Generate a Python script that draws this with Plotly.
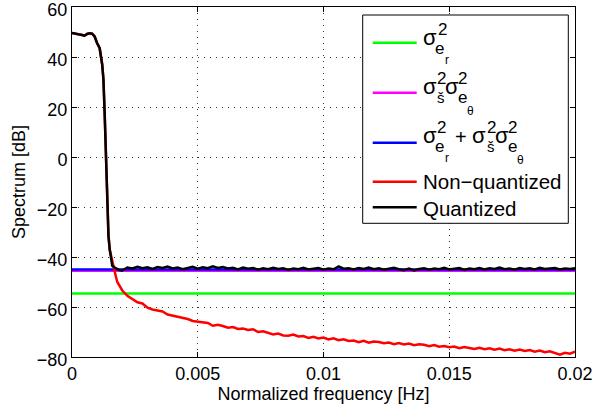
import plotly.graph_objects as go

# ---------------- data ----------------
freq_head = [0.0000, 0.0001, 0.0002, 0.0003, 0.0004, 0.0005, 0.0006, 0.0007, 0.0008, 0.0009,
             0.0010, 0.0011, 0.0012, 0.00125, 0.0013, 0.00135, 0.0014, 0.00145, 0.0015,
             0.0016, 0.0017, 0.0018, 0.0019, 0.0020]
freq_tail = [0.0022, 0.0024, 0.0026, 0.0028, 0.0030, 0.0032, 0.0034, 0.0036, 0.0038, 0.0040,
             0.0042, 0.0044, 0.0046, 0.0048, 0.0050, 0.0052, 0.0054, 0.0056, 0.0058, 0.0060,
             0.0062, 0.0064, 0.0066, 0.0068, 0.0070, 0.0072, 0.0074, 0.0076, 0.0078, 0.0080,
             0.0082, 0.0084, 0.0086, 0.0088, 0.0090, 0.0092, 0.0094, 0.0096, 0.0098, 0.0100,
             0.0102, 0.0104, 0.0106, 0.0108, 0.0110, 0.0112, 0.0114, 0.0116, 0.0118, 0.0120,
             0.0122, 0.0124, 0.0126, 0.0128, 0.0130, 0.0132, 0.0134, 0.0136, 0.0138, 0.0140,
             0.0142, 0.0144, 0.0146, 0.0148, 0.0150, 0.0152, 0.0154, 0.0156, 0.0158, 0.0160,
             0.0162, 0.0164, 0.0166, 0.0168, 0.0170, 0.0172, 0.0174, 0.0176, 0.0178, 0.0180,
             0.0182, 0.0184, 0.0186, 0.0188, 0.0190, 0.0192, 0.0194, 0.0196, 0.0198, 0.0200]
freq = freq_head + freq_tail

nonquant_db = [49.6, 49.5, 49.2, 49.0, 48.8, 48.5, 49.2, 49.5, 49.3, 48.2,
               45.5, 43.5, 37.0, 31.0, 17.0, 2.0, -22.0, -31.5, -37.0,
               -42.0, -46.0, -50.0, -51.5, -53.4,
               -55.5, -56.8, -58.1, -58.6, -60.3, -61.0, -61.3, -61.8, -63.0, -63.4,
               -63.8, -64.5, -64.8, -65.6, -65.9, -66.0, -66.4, -67.5, -67.1, -67.6,
               -68.3, -68.0, -68.8, -68.6, -69.2, -68.9, -70.0, -69.7, -70.3, -71.0,
               -70.6, -71.4, -71.5, -71.0, -71.8, -71.6, -72.4, -71.9, -72.6, -72.2,
               -73.0, -72.5, -73.3, -72.9, -73.6, -73.4, -74.1, -73.5, -74.3, -73.8,
               -74.0, -74.5, -74.2, -74.9, -74.4, -75.0, -74.6, -75.3, -74.9, -75.1,
               -75.7, -75.2, -75.9, -75.6, -76.1, -75.8, -76.5, -76.0, -76.4, -76.8,
               -76.3, -76.9, -76.5, -77.1, -76.6, -77.3, -76.9, -77.5, -77.0, -77.6,
               -77.2, -77.9, -77.4, -78.1, -77.7, -78.4, -79.1, -78.3, -78.7, -77.9]

quant_db = [49.6, 49.5, 49.2, 49.0, 48.8, 48.5, 49.2, 49.5, 49.3, 48.2,
            45.5, 43.5, 37.0, 31.0, 17.0, 2.0, -22.0, -31.5, -37.0,
            -43.5, -44.2, -44.9, -45.3, -45.4,
            -44.2, -44.6, -43.9, -44.5, -44.1, -44.8, -44.0, -44.4, -43.8, -44.6,
            -44.2, -44.9, -44.3, -43.9, -44.7, -44.1, -44.5, -43.7, -44.4, -44.0,
            -44.6, -44.3, -45.0, -44.2, -44.7, -44.4, -45.1, -44.5, -44.9, -44.3,
            -44.8, -44.5, -45.2, -44.6, -44.9, -44.3, -45.0, -44.7, -44.4, -45.1,
            -44.6, -44.9, -43.8, -44.7, -44.5, -45.0, -44.4, -44.8, -44.2, -44.9,
            -44.5, -45.1, -44.7, -44.3, -44.9, -45.3, -44.6, -45.4, -44.8, -44.5,
            -45.1, -44.6, -44.9, -44.3, -45.0, -44.7, -44.4, -45.2, -44.6, -44.9,
            -44.4, -45.0, -44.5, -44.8, -44.2, -44.9, -44.6, -45.1, -44.4, -44.8,
            -44.5, -45.0, -44.3, -44.8, -44.6, -44.4, -45.0, -44.6, -44.8, -44.5]

sigma_er_db = -54.6
sigma_x_etheta_db = -45.5
sigma_total_db = -45.0

x_range = [0, 0.02]
y_range = [-80, 60]
x_ticks = [0, 0.005, 0.01, 0.015, 0.02]
x_ticklabels = ["0", "0.005", "0.01", "0.015", "0.02"]
y_ticks = [60, 40, 20, 0, -20, -40, -60, -80]

series_names = ["σ²_e_r", "σ²_š σ²_e_θ", "σ²_e_r + σ²_š σ²_e_θ", "Non−quantized", "Quantized"]
colors = ["#00ff00", "#ff00ff", "#0000ff", "#ff0000", "#000000"]

# ---------------- layout geometry (pixels) ----------------
W, H = 596, 414
ML, MR, MT, MB = 72, 21, 7, 57
PW, PH = W - ML - MR, H - MT - MB


def px2x(px):
    return (px - ML) / PW


def px2y(py):
    return (MT + PH - py) / PH


FONT = "Liberation Sans, Arial, Helvetica, sans-serif"

# ---------------- figure ----------------
fig = go.Figure()
fig.add_trace(go.Scatter(x=x_range, y=[sigma_er_db, sigma_er_db], mode="lines",
                         line=dict(color=colors[0], width=2.5), name=series_names[0]))
fig.add_trace(go.Scatter(x=x_range, y=[sigma_x_etheta_db, sigma_x_etheta_db], mode="lines",
                         line=dict(color=colors[1], width=2.5), name=series_names[1]))
fig.add_trace(go.Scatter(x=x_range, y=[sigma_total_db, sigma_total_db], mode="lines",
                         line=dict(color=colors[2], width=2.5), name=series_names[2]))
fig.add_trace(go.Scatter(x=freq, y=nonquant_db, mode="lines",
                         line=dict(color=colors[3], width=2.5), name=series_names[3]))
fig.add_trace(go.Scatter(x=freq, y=quant_db, mode="lines",
                         line=dict(color=colors[4], width=2.5), name=series_names[4]))

# ---------------- MATLAB-style legend (drawn by hand for stacked sub/superscripts) -------
shapes = []
annotations = []

# legend box
shapes.append(dict(type="rect", xref="paper", yref="paper",
                   x0=px2x(362.7), x1=px2x(568.3), y0=px2y(223.3), y1=px2y(15),
                   line=dict(color="black", width=1), fillcolor="white", layer="above"))

row_y = [42.7, 92.7, 142.7, 181.7, 207.3]
for c, yy in zip(colors, row_y):
    shapes.append(dict(type="line", xref="paper", yref="paper",
                       x0=px2x(372.7), x1=px2x(416.7), y0=px2y(yy), y1=px2y(yy),
                       line=dict(color=c, width=2.5), layer="above"))


def piece(text, left, baseline, size):
    center = baseline - 0.35 * size
    annotations.append(dict(text=text, xref="paper", yref="paper",
                            x=px2x(left), y=px2y(center), xanchor="left", yanchor="middle",
                            showarrow=False, borderpad=0,
                            font=dict(family=FONT, size=size, color="black")))


S_MAIN, S_SUP, S_SUB2 = 22, 17, 12

# row 1: sigma^2_{e_r}
b = 45
piece("σ", 421.5, b, S_MAIN)
piece("2", 436.5, b - 10, S_SUP)
piece("e", 433.5, b + 9, S_SUP)
piece("r", 443.5, b + 19, S_SUB2)

# row 2: sigma^2_{š} sigma^2_{e_theta}
b = 94
piece("σ", 421.5, b, S_MAIN)
piece("2", 435.5, b - 10, S_SUP)
piece("š", 435.5, b + 9, 15)
piece("σ", 443.5, b, S_MAIN)
piece("2", 457.0, b - 10, S_SUP)
piece("e", 457.0, b + 9, S_SUP)
piece("θ", 465.5, b + 21, S_SUB2)

# row 3: sigma^2_{e_r} + sigma^2_{š} sigma^2_{e_theta}
b = 143
piece("σ", 421.5, b, S_MAIN)
piece("2", 436.0, b - 10, S_SUP)
piece("e", 433.5, b + 9, S_SUP)
piece("r", 443.5, b + 19, S_SUB2)
piece("+", 454.0, b + 1, 20)
piece("σ", 471.0, b, S_MAIN)
piece("2", 485.5, b - 10, S_SUP)
piece("š", 485.5, b + 9, 15)
piece("σ", 493.5, b, S_MAIN)
piece("2", 507.0, b - 10, S_SUP)
piece("e", 507.0, b + 9, S_SUP)
piece("θ", 516.0, b + 21, S_SUB2)

# rows 4, 5: plain text
piece("Non−quantized", 422.0, 188.3, 20.5)
piece("Quantized", 422.0, 215.7, 20.5)

axis_common = dict(
    showline=True, linecolor="black", linewidth=1, mirror="allticks",
    ticks="inside", ticklen=5, tickcolor="black",
    showgrid=True, gridcolor="rgba(0,0,0,0.8)", griddash="1px,5px", gridwidth=1,
    zeroline=False, tickfont=dict(size=18, color="black"),
    ticklabeloverflow="allow", automargin=False,
)

fig.update_layout(
    width=W, height=H,
    margin=dict(l=ML, r=MR, t=MT, b=MB, autoexpand=False),
    paper_bgcolor="white", plot_bgcolor="white",
    font=dict(family=FONT, size=18, color="black"),
    xaxis=dict(range=x_range, tickvals=x_ticks, ticktext=x_ticklabels,
               title=dict(text="Normalized frequency [Hz]", font=dict(size=18), standoff=2),
               **axis_common),
    yaxis=dict(range=y_range, tickvals=y_ticks, ticklabelshift=3,
               title=dict(text="Spectrum [dB]", font=dict(size=18), standoff=6),
               **axis_common),
    showlegend=False,
    shapes=shapes,
    annotations=annotations,
)

fig.write_html("out.html")
